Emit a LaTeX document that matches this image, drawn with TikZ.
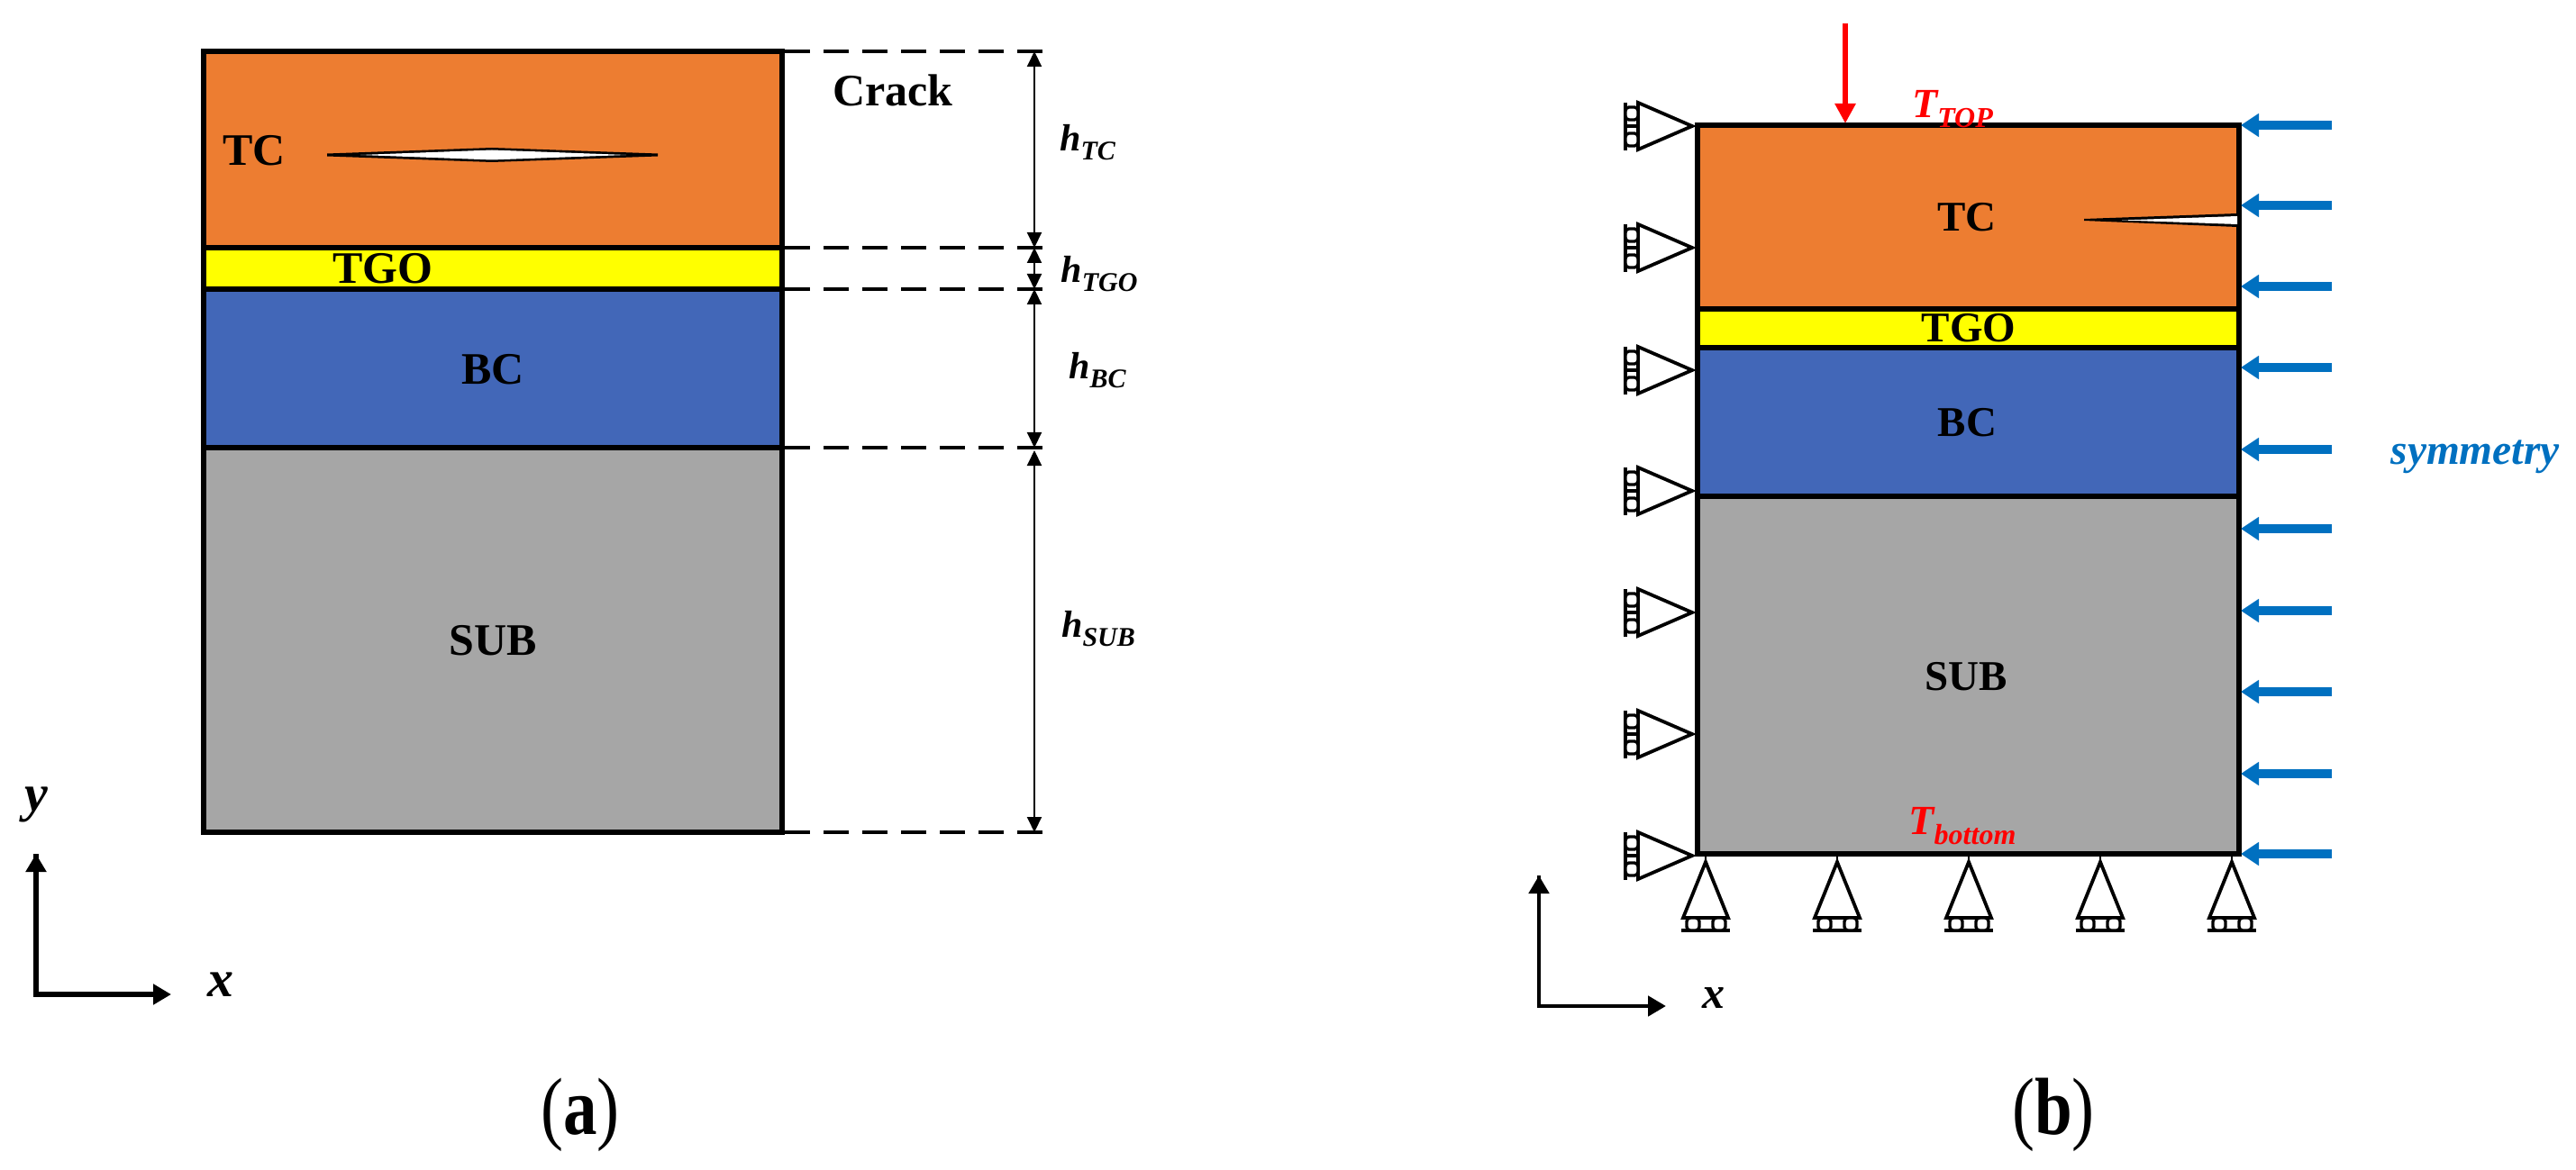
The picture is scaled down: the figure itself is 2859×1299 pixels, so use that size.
\documentclass[tikz,border=0pt]{standalone}
\usepackage{fontspec}
\setmainfont{Liberation Serif}
\usetikzlibrary{arrows.meta}
\definecolor{tcorange}{HTML}{ED7D31}
\definecolor{tgoyellow}{HTML}{FFFF00}
\definecolor{bcblue}{HTML}{4267B8}
\definecolor{subgray}{HTML}{A6A6A6}
\definecolor{symblue}{HTML}{0070C0}
\newcommand{\fsz}[1]{\fontsize{#1}{#1}\selectfont}
\newcommand{\subbed}[4]{{\fsz{#3}\bfseries\itshape #1\raisebox{-0.25em}{\fsz{#4}#2}}}
\tikzset{
  x=0.5pt,y=-0.5pt,
  layer/.style={draw=black,line width=3.3pt,line join=miter},
  lbl/.style={inner sep=0pt,font=\fsz{#1}\bfseries},
  lbl/.default=25,
  dimtxt/.style={inner sep=0pt},
  dashline/.style={line width=2.2pt,dash pattern=on 14pt off 7.5pt},
  dimarrow/.style={line width=1pt,{Triangle[length=8.5pt,width=8pt]}-{Triangle[length=8.5pt,width=8pt]}},
  axisline/.style={line width=2.7pt,-{Triangle[length=10pt,width=11pt]},line join=miter},
  heatarrow/.style={draw=red,line width=3pt,-{Triangle[length=11pt,width=11pt]}},
  symarrow/.style={draw=symblue,line width=4.8pt,-{Triangle[length=10pt,width=12.5pt]}},
  support/.style={draw=black,line width=1.9pt},
  supfill/.style={draw=black,line width=1.9pt,fill=white,line join=miter},
  roller/.style={draw=black,line width=1.7pt,fill=white,rounded corners=2pt},
}
\begin{document}
\begin{tikzpicture}
\useasboundingbox (0,0) rectangle (2859,1299);

% ---------- panel (a) ----------
\filldraw[layer,fill=tcorange]  (226,57)  rectangle (868,275);
\filldraw[layer,fill=tgoyellow] (226,275) rectangle (868,321);
\filldraw[layer,fill=bcblue]    (226,321) rectangle (868,497);
\filldraw[layer,fill=subgray]   (226,497) rectangle (868,924);
\fill[black] (363,170.5) -- (546,164) -- (730,170.5) -- (730,173.5) -- (546,180) -- (363,173.5) -- cycle;
\fill[white] (400,172) -- (546,166.5) -- (695,172) -- (546,177.5) -- cycle;

\node[lbl] (aTC)  at (282,167) {TC};
\node[lbl] (aTGO) at (425,298) {TGO};
\node[lbl] (aBC)  at (547,410) {BC};
\node[lbl] (aSUB) at (547,711) {SUB};
\node[lbl] (aCrack) at (991,100) {Crack};

\foreach \n/\yy in {t/57,u/275,v/321,w/497,z/924}{
  \coordinate (ds\n) at (871,\yy);
  \coordinate (de\n) at (1165,\yy);
  \coordinate (dm\n) at (1148,\yy);
  \draw[dashline] (ds\n) -- (de\n);
}
\coordinate (dmw2) at (1148,500);
\draw[dimarrow] (dmt) -- (dmu);
\draw[dimarrow] (dmu) -- (dmv);
\draw[dimarrow] (dmv) -- (dmw);
\draw[dimarrow] (dmw2) -- (dmz);

\node[dimtxt] (hTC)  at (1207,158) {\subbed{h}{TC}{21}{15}};
\node[dimtxt] (hTGO) at (1220,304) {\subbed{h}{TGO}{21}{15}};
\node[dimtxt] (hBC)  at (1218,411) {\subbed{h}{BC}{21}{15}};
\node[dimtxt] (hSUB) at (1219,698) {\subbed{h}{SUB}{21}{15}};

\coordinate (aO) at (40,1104);
\coordinate (aY) at (40,948);
\coordinate (aX) at (190,1104);
\draw[axisline] (aY) -- (aO) -- (aX);
\draw[axisline] (aO) -- (aY);
\node[lbl=29,font=\fsz{29}\bfseries\itshape] (ay) at (40,893) {y};
\node[lbl=29,font=\fsz{29}\bfseries\itshape] (ax) at (245,1093) {x};
\node[inner sep=0pt,font=\fsz{37.5}] (capa) at (644,1238) {\scalebox{1}[1.2]{(\textbf{a})}};

% ---------- panel (b) ----------
\foreach \tipy in {140,275,411,545,680,815,950}{
  \draw[supfill] (1878,\tipy) -- (1818,\tipy-26) -- (1818,\tipy+26) -- cycle;
  \draw[support] (1804,\tipy-26) -- (1804,\tipy+27);
  \draw[support] (1804,\tipy) -- (1818,\tipy);
  \filldraw[roller] (1804,\tipy-21) rectangle (1818,\tipy-7);
  \filldraw[roller] (1804,\tipy+8) rectangle (1818,\tipy+22);
}
\foreach \tipx in {1893,2039,2185,2331,2477}{
  \draw[support,line width=1pt] (\tipx,948) -- (\tipx,957);
  \draw[supfill] (\tipx,957) -- (\tipx-25,1019) -- (\tipx+25,1019) -- cycle;
  \draw[support] (\tipx-27,1033) -- (\tipx+27,1033);
  \filldraw[roller] (\tipx-21,1019) rectangle (\tipx-7,1033);
  \filldraw[roller] (\tipx+8,1019) rectangle (\tipx+22,1033);
}
\filldraw[layer,fill=tcorange]  (1884,139) rectangle (2485,343);
\filldraw[layer,fill=tgoyellow] (1884,343) rectangle (2485,386);
\filldraw[layer,fill=bcblue]    (1884,386) rectangle (2485,551);
\filldraw[layer,fill=subgray]   (1884,551) rectangle (2485,948);
\fill[black] (2483,237) -- (2313,243) -- (2313,245) -- (2483,252) -- cycle;
\fill[white] (2483,240) -- (2355,244.5) -- (2483,249) -- cycle;

\node[lbl=23.5] (bTC)  at (2183,241) {TC};
\node[lbl=23.5] (bTGO) at (2185,364) {TGO};
\node[lbl=23.5] (bBC)  at (2183.5,469) {BC};
\node[lbl=23.5] (bSUB) at (2182,751) {SUB};

\coordinate (hs) at (2048,26);
\coordinate (he) at (2048,137);
\draw[heatarrow] (hs) -- (he);
\node[dimtxt,text=red] (ttop) at (2167,121) {\subbed{T}{TOP}{23}{16}};
\node[dimtxt,text=red] (tbot) at (2178,917) {\subbed{T}{bottom}{23}{16}};

\foreach \n/\yy in {a/139,b/228,c/318,d/408,e/499,f/587,g/678,h/768,i/859,j/948}{
  \coordinate (sy\n) at (2588,\yy);
  \coordinate (st\n) at (2487,\yy);
  \draw[symarrow] (sy\n) -- (st\n);
}
\node[inner sep=0pt,text=symblue,font=\fsz{23.7}\bfseries\itshape] (sym) at (2747,507) {symmetry};

\coordinate (bO) at (1708,1117);
\coordinate (bY) at (1708,972);
\coordinate (bX) at (1849,1117);
\draw[axisline,line width=2.4pt] (bY) -- (bO) -- (bX);
\draw[axisline,line width=2.4pt] (bO) -- (bY);
\node[lbl,font=\fsz{25}\bfseries\itshape] (bx) at (1902,1108) {x};
\node[inner sep=0pt,font=\fsz{37.5}] (capb) at (2279,1238) {\scalebox{1}[1.2]{(\textbf{b})}};
\end{tikzpicture}
\end{document}
